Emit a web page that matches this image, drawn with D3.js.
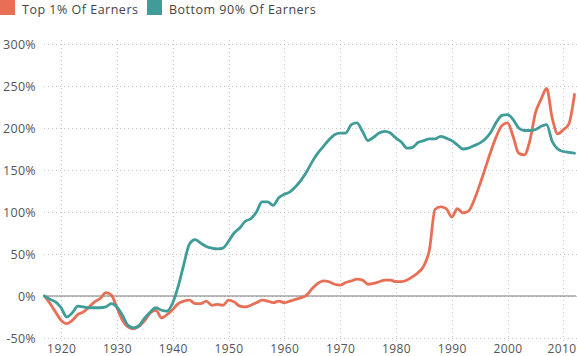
<!DOCTYPE html>
<html>
<head>
<meta charset="utf-8">
<script src="https://cdn.jsdelivr.net/npm/d3@7"></script>
<style>
  html, body { margin: 0; padding: 0; background: #fff; }
  svg { display: block; font-family: "Open Sans", sans-serif; }
</style>
</head>
<body>
<svg id="chart" width="577" height="356"></svg>
<script>
const years = d3.range(1917, 2013);
const seriesNames = ["Top 1% Of Earners", "Bottom 90% Of Earners"];
const top1 = [0,-9,-19,-29,-33,-29,-22,-19,-13,-7,-3,4,1,-14,-29,-37,-39,-36,-29,-20,
  -17,-26,-22,-16,-9,-6,-5,-9,-9,-6,-11,-10,-11,-5,-7,-12,-13,-11,-8,-5,
  -6,-8,-6,-8,-6,-4,-2,1,9,15,18,17,14,13,16,18,20,19,14,15,
  17,19,19,17,17,19,23,28,36,55,103,106,104,94,104,99,101,114,132,152,
  172,190,203,206,190,170,168,185,218,234,247,212,193,198,205,240];
const bottom90 = [0,-4,-7,-14,-25,-20,-12,-13,-14,-14,-14,-13,-9,-13,-23,-35,-38,-35,-26,-19,
  -14,-17,-18,-8,12,38,62,67,63,59,57,56,57,65,75,81,89,92,100,112,
  112,108,117,121,124,130,138,148,160,170,178,186,192,194,194,204,206,196,185,189,
  194,196,194,188,183,176,177,183,185,187,187,190,188,185,180,175,176,179,182,187,
  195,207,215,216,210,200,197,197,198,202,204,184,175,172,171,170];
const yTicks = [-50, 0, 50, 100, 150, 200, 250, 300];
const xTicks = [1920, 1930, 1940, 1950, 1960, 1970, 1980, 1990, 2000, 2010];
const colors = ["#e86f56", "#409c98"];

const svg = d3.select("#chart");
const x = d3.scaleLinear().domain([1917, 2012]).range([44.4, 574.5]);
const y = d3.scaleLinear().domain([-50, 300]).range([338, 44]);

// horizontal grid
svg.append("g").selectAll("line").data(yTicks).join("line")
  .attr("x1", 44).attr("x2", 577)
  .attr("y1", d => y(d) + 0.5).attr("y2", d => y(d) + 0.5)
  .attr("stroke", "#c8c8c8").attr("stroke-width", 1).attr("stroke-dasharray", "1,3");
// vertical grid
svg.append("g").selectAll("line").data(xTicks).join("line")
  .attr("x1", d => Math.round(x(d)) + 0.5).attr("x2", d => Math.round(x(d)) + 0.5)
  .attr("y1", 40).attr("y2", 342)
  .attr("stroke", "#c8c8c8").attr("stroke-width", 1).attr("stroke-dasharray", "1,3");

// y labels
const yAxis = d3.axisLeft(y).tickValues(yTicks).tickFormat(d => d + "%").tickSize(0).tickPadding(0);
const ga = svg.append("g").attr("transform", "translate(36,0)").call(yAxis);
ga.select(".domain").remove();
ga.selectAll("text").attr("fill", "#555").style("font-size", "12.5px")
  .style("letter-spacing", "0.3px").style("font-family", "Open Sans, sans-serif");

// x labels
const xAxis = d3.axisBottom(x).tickValues(xTicks).tickFormat(d3.format("d")).tickSize(0).tickPadding(0);
const gx = svg.append("g").attr("transform", "translate(0,344)").call(xAxis);
gx.select(".domain").remove();
gx.selectAll("text").attr("fill", "#555").style("font-size", "12px")
  .style("letter-spacing", "0.4px").style("font-family", "Open Sans, sans-serif");
gx.selectAll(".tick").filter(d => d === 2010).select("text")
  .attr("text-anchor", "end").attr("x", 576 - x(2010));

// zero line
svg.append("line").attr("x1", 44).attr("x2", 576).attr("y1", y(0)).attr("y2", y(0))
  .attr("stroke", "#7a7a7a").attr("stroke-width", 1.2);

const line = d3.line().x((d, i) => x(years[i])).y(d => y(d)).curve(d3.curveMonotoneX);
[top1, bottom90].forEach((s, i) => {
  svg.append("path").datum(s).attr("d", line)
    .attr("fill", "none").attr("stroke", colors[i]).attr("stroke-width", 2.8)
    .attr("stroke-linejoin", "round").attr("stroke-linecap", "round");
});

// legend
const legX = [0, 147];
const leg = svg.append("g");
seriesNames.forEach((n, i) => {
  leg.append("rect").attr("x", legX[i]).attr("y", 0).attr("width", 15).attr("height", 15).attr("fill", colors[i]);
  leg.append("text").attr("x", legX[i] + 22).attr("y", 13.5).text(n)
    .attr("fill", "#444").style("font-size", "12.5px").style("letter-spacing", "0.5px");
});
</script>
</body>
</html>
